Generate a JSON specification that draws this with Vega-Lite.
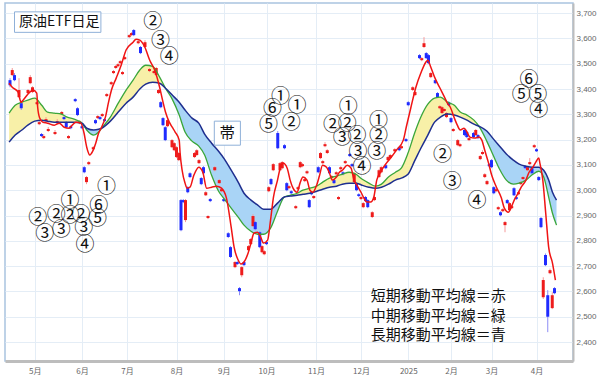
{
"$schema":"https://vega.github.io/schema/vega-lite/v6.json",
"width":568,"height":358,
"padding":{"left":5,"top":3,"right":0,"bottom":0},
"background":"white",
"config":{"view":{"stroke":"#a9c3e0","strokeWidth":1.5},"font":"Noto Sans CJK JP"},
"datasets":{
"band":[
{"t":-11.4,"g":3305,"b":3190,"seg":"A","k":"y"},{"t":-8.7,"g":3336,"b":3218,"seg":"A","k":"y"},{"t":-5.7,"g":3348,"b":3238,"seg":"A","k":"y"},{"t":-3.1,"g":3356,"b":3257,"seg":"A","k":"y"},{"t":0,"g":3364,"b":3273,"seg":"A","k":"y"},{"t":3.1,"g":3336,"b":3277,"seg":"A","k":"y"},{"t":5.7,"g":3309,"b":3273,"seg":"A","k":"y"},{"t":8.7,"g":3305,"b":3269,"seg":"A","k":"y"},{"t":11.8,"g":3301,"b":3269,"seg":"A","k":"y"},{"t":14.4,"g":3289,"b":3269,"seg":"A","k":"y"},{"t":17.5,"g":3281,"b":3269,"seg":"A","k":"y"},{"t":21.0,"g":3265,"b":3265,"seg":"A","k":"y"},
{"t":21.0,"g":3265,"b":3265,"seg":"B","k":"b"},{"t":23.1,"g":3238,"b":3245,"seg":"B","k":"b"},{"t":26.2,"g":3218,"b":3238,"seg":"B","k":"b"},{"t":28.4,"g":3230,"b":3241,"seg":"B","k":"b"},{"t":29.7,"g":3245,"b":3245,"seg":"B","k":"b"},
{"t":29.7,"g":3245,"b":3245,"seg":"C","k":"y"},{"t":33.6,"g":3289,"b":3273,"seg":"C","k":"y"},{"t":37.1,"g":3344,"b":3309,"seg":"C","k":"y"},{"t":40.6,"g":3396,"b":3344,"seg":"C","k":"y"},{"t":43.7,"g":3435,"b":3368,"seg":"C","k":"y"},{"t":46.7,"g":3475,"b":3400,"seg":"C","k":"y"},{"t":49.3,"g":3494,"b":3419,"seg":"C","k":"y"},{"t":52.4,"g":3490,"b":3427,"seg":"C","k":"y"},{"t":55.5,"g":3447,"b":3423,"seg":"C","k":"y"},{"t":58.1,"g":3403,"b":3403,"seg":"C","k":"y"},
{"t":58.1,"g":3403,"b":3403,"seg":"D","k":"b"},{"t":61.1,"g":3360,"b":3376,"seg":"D","k":"b"},{"t":64.2,"g":3297,"b":3348,"seg":"D","k":"b"},{"t":66.8,"g":3230,"b":3317,"seg":"D","k":"b"},{"t":69.9,"g":3194,"b":3285,"seg":"D","k":"b"},{"t":72.9,"g":3174,"b":3265,"seg":"D","k":"b"},{"t":75.5,"g":3139,"b":3222,"seg":"D","k":"b"},{"t":78.6,"g":3059,"b":3186,"seg":"D","k":"b"},{"t":81.7,"g":2996,"b":3154,"seg":"D","k":"b"},{"t":84.3,"g":2965,"b":3123,"seg":"D","k":"b"},{"t":87.3,"g":2929,"b":3079,"seg":"D","k":"b"},{"t":90.4,"g":2894,"b":3032,"seg":"D","k":"b"},{"t":93.0,"g":2862,"b":2988,"seg":"D","k":"b"},{"t":96.1,"g":2838,"b":2961,"seg":"D","k":"b"},{"t":99.1,"g":2826,"b":2941,"seg":"D","k":"b"},{"t":101.7,"g":2826,"b":2925,"seg":"D","k":"b"},{"t":104.8,"g":2850,"b":2925,"seg":"D","k":"b"},{"t":107.9,"g":2917,"b":2949,"seg":"D","k":"b"},{"t":110.9,"g":2973,"b":2973,"seg":"D","k":"b"},
{"t":110.9,"g":2973,"b":2973,"seg":"E","k":"y"},{"t":113.5,"g":2980,"b":2977,"seg":"E","k":"y"},{"t":116.6,"g":2988,"b":2980,"seg":"E","k":"y"},{"t":119.2,"g":3000,"b":2984,"seg":"E","k":"y"},{"t":122.3,"g":3008,"b":2988,"seg":"E","k":"y"},{"t":125.3,"g":3016,"b":2996,"seg":"E","k":"y"},{"t":128.0,"g":3032,"b":3004,"seg":"E","k":"y"},{"t":131.0,"g":3048,"b":3012,"seg":"E","k":"y"},{"t":134.1,"g":3056,"b":3016,"seg":"E","k":"y"},{"t":136.7,"g":3063,"b":3024,"seg":"E","k":"y"},{"t":139.7,"g":3071,"b":3028,"seg":"E","k":"y"},{"t":142.8,"g":3063,"b":3028,"seg":"E","k":"y"},{"t":145.4,"g":3044,"b":3020,"seg":"E","k":"y"},{"t":148.5,"g":3028,"b":3012,"seg":"E","k":"y"},{"t":151.5,"g":3016,"b":3008,"seg":"E","k":"y"},{"t":154.1,"g":3024,"b":3012,"seg":"E","k":"y"},{"t":157.2,"g":3052,"b":3024,"seg":"E","k":"y"},{"t":160.3,"g":3071,"b":3040,"seg":"E","k":"y"},{"t":162.9,"g":3087,"b":3048,"seg":"E","k":"y"},{"t":165.9,"g":3147,"b":3063,"seg":"E","k":"y"},{"t":169.0,"g":3230,"b":3119,"seg":"E","k":"y"},{"t":171.6,"g":3289,"b":3166,"seg":"E","k":"y"},{"t":174.7,"g":3340,"b":3218,"seg":"E","k":"y"},{"t":177.7,"g":3364,"b":3269,"seg":"E","k":"y"},{"t":180.3,"g":3368,"b":3289,"seg":"E","k":"y"},{"t":183.4,"g":3348,"b":3301,"seg":"E","k":"y"},{"t":186.5,"g":3336,"b":3297,"seg":"E","k":"y"},{"t":189.1,"g":3309,"b":3289,"seg":"E","k":"y"},{"t":192.1,"g":3297,"b":3277,"seg":"E","k":"y"},{"t":195.2,"g":3277,"b":3261,"seg":"E","k":"y"},{"t":197.4,"g":3253,"b":3253,"seg":"E","k":"y"},
{"t":197.4,"g":3253,"b":3253,"seg":"F","k":"b"},{"t":200.9,"g":3194,"b":3234,"seg":"F","k":"b"},{"t":203.9,"g":3135,"b":3202,"seg":"F","k":"b"},{"t":206.6,"g":3083,"b":3174,"seg":"F","k":"b"},{"t":209.6,"g":3040,"b":3143,"seg":"F","k":"b"},{"t":212.7,"g":3024,"b":3119,"seg":"F","k":"b"},{"t":215.3,"g":3028,"b":3103,"seg":"F","k":"b"},{"t":218.3,"g":3040,"b":3095,"seg":"F","k":"b"},{"t":221.4,"g":3063,"b":3091,"seg":"F","k":"b"},{"t":224.0,"g":3075,"b":3091,"seg":"F","k":"b"},{"t":226.2,"g":3052,"b":3079,"seg":"F","k":"b"},{"t":228.4,"g":2973,"b":3040,"seg":"F","k":"b"},{"t":230.1,"g":2909,"b":2992,"seg":"F","k":"b"},{"t":231.9,"g":2862,"b":2961,"seg":"F","k":"b"}
],
"red":[
{"t":-11.4,"r":3423},{"t":-10.0,"r":3407},{"t":-7.4,"r":3388},{"t":-6.1,"r":3348},{"t":-5.2,"r":3356},{"t":-2.2,"r":3388},{"t":-0.9,"r":3396},{"t":0.9,"r":3384},{"t":1.3,"r":3328},{"t":2.2,"r":3285},{"t":3.5,"r":3269},{"t":5.7,"r":3265},{"t":8.7,"r":3257},{"t":10.9,"r":3265},{"t":13.1,"r":3249},{"t":15.3,"r":3245},{"t":16.6,"r":3257},{"t":18.3,"r":3269},{"t":20.5,"r":3265},{"t":21.8,"r":3230},{"t":23.1,"r":3170},{"t":24.5,"r":3139},{"t":25.3,"r":3147},{"t":27.1,"r":3186},{"t":28.4,"r":3226},{"t":29.7,"r":3249},{"t":31.4,"r":3289},{"t":32.8,"r":3348},{"t":34.1,"r":3396},{"t":36.2,"r":3443},{"t":38.4,"r":3494},{"t":40.6,"r":3554},{"t":43.7,"r":3585},{"t":45.0,"r":3597},{"t":46.7,"r":3593},{"t":48.9,"r":3566},{"t":51.1,"r":3514},{"t":53.3,"r":3475},{"t":55.5,"r":3407},{"t":56.8,"r":3356},{"t":58.1,"r":3309},{"t":59.8,"r":3269},{"t":61.1,"r":3249},{"t":62.4,"r":3230},{"t":64.2,"r":3198},{"t":64.6,"r":3147},{"t":65.5,"r":3079},{"t":66.8,"r":3028},{"t":67.7,"r":3008},{"t":69.0,"r":3012},{"t":70.7,"r":3059},{"t":72.9,"r":3091},{"t":74.7,"r":3071},{"t":76.4,"r":3008},{"t":78.6,"r":3012},{"t":80.8,"r":3016},{"t":83.0,"r":3008},{"t":85.2,"r":2969},{"t":87.3,"r":2854},{"t":88.6,"r":2775},{"t":90.4,"r":2724},{"t":91.7,"r":2708},{"t":93.0,"r":2716},{"t":94.8,"r":2751},{"t":96.1,"r":2791},{"t":97.4,"r":2830},{"t":99.1,"r":2834},{"t":100.4,"r":2815},{"t":101.7,"r":2791},{"t":103.5,"r":2803},{"t":104.8,"r":2882},{"t":106.1,"r":2973},{"t":107.9,"r":3040},{"t":109.2,"r":3091},{"t":110.5,"r":3107},{"t":112.2,"r":3087},{"t":113.5,"r":3040},{"t":114.8,"r":3008},{"t":116.6,"r":2992},{"t":117.9,"r":3028},{"t":119.2,"r":3052},{"t":121.0,"r":3040},{"t":122.3,"r":3000},{"t":123.6,"r":2992},{"t":125.3,"r":3020},{"t":126.6,"r":3059},{"t":127.9,"r":3099},{"t":129.7,"r":3091},{"t":131.0,"r":3067},{"t":132.3,"r":3040},{"t":134.1,"r":3052},{"t":135.4,"r":3071},{"t":136.7,"r":3079},{"t":138.9,"r":3099},{"t":140.6,"r":3087},{"t":141.9,"r":3040},{"t":143.2,"r":3020},{"t":145.0,"r":2992},{"t":146.3,"r":2969},{"t":147.6,"r":2953},{"t":149.3,"r":2953},{"t":150.7,"r":2973},{"t":152.0,"r":3040},{"t":153.7,"r":3071},{"t":155.0,"r":3091},{"t":156.3,"r":3107},{"t":158.5,"r":3131},{"t":160.7,"r":3158},{"t":163.8,"r":3198},{"t":165.1,"r":3249},{"t":167.2,"r":3328},{"t":169.4,"r":3407},{"t":171.6,"r":3463},{"t":173.8,"r":3506},{"t":174.7,"r":3514},{"t":176.0,"r":3487},{"t":177.7,"r":3447},{"t":179.9,"r":3407},{"t":182.1,"r":3368},{"t":183.4,"r":3344},{"t":184.7,"r":3328},{"t":186.5,"r":3285},{"t":187.8,"r":3257},{"t":189.1,"r":3238},{"t":190.8,"r":3245},{"t":192.1,"r":3230},{"t":193.4,"r":3210},{"t":195.6,"r":3206},{"t":197.4,"r":3210},{"t":198.7,"r":3198},{"t":200.0,"r":3158},{"t":201.7,"r":3107},{"t":203.1,"r":3059},{"t":205.2,"r":3012},{"t":207.4,"r":2969},{"t":208.7,"r":2929},{"t":210.5,"r":2913},{"t":211.8,"r":2933},{"t":213.1,"r":2961},{"t":214.8,"r":2988},{"t":216.2,"r":3012},{"t":218.3,"r":3040},{"t":219.7,"r":3071},{"t":221.4,"r":3091},{"t":222.7,"r":3111},{"t":224.0,"r":3127},{"t":224.5,"r":3107},{"t":225.8,"r":3040},{"t":227.1,"r":2909},{"t":228.4,"r":2775},{"t":230.1,"r":2712},{"t":231.4,"r":2645}
],
"candles":[
{"t":-11,"o":3435,"c":3415,"h":3443,"l":3407},{"t":-10,"o":3455,"c":3475,"h":3483,"l":3451},{"t":-9,"o":3455,"c":3435,"h":3463,"l":3431},{"t":-7,"o":3368,"c":3396,"h":3443,"l":3364},{"t":-6,"o":3344,"c":3324,"h":3352,"l":3317},{"t":-3,"o":3384,"c":3396,"h":3400,"l":3380},{"t":-2,"o":3423,"c":3447,"h":3455,"l":3419},{"t":-1,"o":3388,"c":3407,"h":3411,"l":3384},
{"t":1,"o":3340,"c":3348,"h":3352,"l":3336},{"t":2,"o":3261,"c":3269,"h":3273,"l":3257},{"t":3,"o":3222,"c":3214,"h":3226,"l":3210},{"t":4,"o":3206,"c":3214,"h":3222,"l":3202},{"t":5,"o":3273,"c":3281,"h":3289,"l":3269},{"t":6,"o":3234,"c":3242,"h":3250,"l":3230},{"t":9,"o":3222,"c":3230,"h":3238,"l":3218},{"t":10,"o":3265,"c":3273,"h":3281,"l":3261},{"t":12,"o":3301,"c":3309,"h":3313,"l":3297},{"t":13,"o":3289,"c":3281,"h":3293,"l":3277},{"t":14,"o":3269,"c":3249,"h":3273,"l":3245},{"t":15,"o":3206,"c":3214,"h":3218,"l":3202},{"t":16,"o":3253,"c":3245,"h":3257,"l":3241},{"t":18,"o":3360,"c":3352,"h":3364,"l":3348},{"t":19,"o":3324,"c":3297,"h":3328,"l":3293},{"t":20,"o":3265,"c":3273,"h":3277,"l":3261},
{"t":21,"o":3253,"c":3245,"h":3257,"l":3241},{"t":22,"o":3091,"c":3071,"h":3095,"l":3067},{"t":23,"o":3032,"c":3052,"h":3056,"l":3024},{"t":24,"o":3103,"c":3111,"h":3115,"l":3099},{"t":26,"o":3162,"c":3170,"h":3174,"l":3158},{"t":27,"o":3277,"c":3265,"h":3281,"l":3261},{"t":28,"o":3285,"c":3293,"h":3297,"l":3281},{"t":29,"o":3289,"c":3281,"h":3293,"l":3277},{"t":30,"o":3293,"c":3301,"h":3305,"l":3289},{"t":31,"o":3281,"c":3273,"h":3285,"l":3269},{"t":32,"o":3372,"c":3380,"h":3384,"l":3368},{"t":34,"o":3419,"c":3427,"h":3431,"l":3415},{"t":35,"o":3463,"c":3471,"h":3475,"l":3459},{"t":36,"o":3483,"c":3491,"h":3495,"l":3479},{"t":37,"o":3490,"c":3498,"h":3502,"l":3486},{"t":38,"o":3502,"c":3510,"h":3514,"l":3498},{"t":39,"o":3459,"c":3467,"h":3471,"l":3455},{"t":40,"o":3518,"c":3526,"h":3530,"l":3514},
{"t":42,"o":3605,"c":3613,"h":3617,"l":3601},{"t":43,"o":3613,"c":3621,"h":3625,"l":3609},{"t":44,"o":3633,"c":3613,"h":3637,"l":3609},{"t":46,"o":3581,"c":3589,"h":3593,"l":3577},{"t":47,"o":3566,"c":3542,"h":3570,"l":3538},{"t":49,"o":3566,"c":3585,"h":3593,"l":3562},{"t":51,"o":3471,"c":3479,"h":3483,"l":3467},{"t":53,"o":3463,"c":3471,"h":3475,"l":3459},{"t":54,"o":3455,"c":3483,"h":3487,"l":3451},{"t":55,"o":3384,"c":3396,"h":3400,"l":3380},{"t":56,"o":3348,"c":3328,"h":3352,"l":3324},{"t":57,"o":3285,"c":3257,"h":3289,"l":3253},{"t":58,"o":3249,"c":3198,"h":3253,"l":3194},{"t":59,"o":3253,"c":3277,"h":3281,"l":3249},{"t":61,"o":3170,"c":3198,"h":3202,"l":3166},{"t":62,"o":3158,"c":3186,"h":3190,"l":3154},
{"t":63,"o":3131,"c":3170,"h":3174,"l":3127},{"t":64,"o":3119,"c":3147,"h":3151,"l":3115},{"t":65,"o":2961,"c":2842,"h":2965,"l":2838},{"t":66,"o":2961,"c":2953,"h":2965,"l":2949},{"t":67,"o":2882,"c":2961,"h":2965,"l":2874},{"t":68,"o":3012,"c":2992,"h":3016,"l":2988},{"t":69,"o":3067,"c":3052,"h":3071,"l":3048},{"t":71,"o":3131,"c":3147,"h":3151,"l":3127},{"t":72,"o":3139,"c":3158,"h":3162,"l":3135},{"t":73,"o":3107,"c":3119,"h":3123,"l":3103},{"t":74,"o":3048,"c":3024,"h":3052,"l":3020},{"t":75,"o":3091,"c":3067,"h":3095,"l":3063},{"t":76,"o":2980,"c":2992,"h":2996,"l":2977},{"t":77,"o":2890,"c":2898,"h":2901,"l":2886},{"t":78,"o":2965,"c":2957,"h":2969,"l":2953},{"t":80,"o":3079,"c":3091,"h":3095,"l":3075},{"t":82,"o":3028,"c":3040,"h":3044,"l":3024},{"t":83,"o":2996,"c":3004,"h":3008,"l":2992},
{"t":84,"o":2965,"c":2957,"h":2969,"l":2953},{"t":86,"o":2830,"c":2815,"h":2834,"l":2811},{"t":87,"o":2775,"c":2736,"h":2779,"l":2732},{"t":89,"o":2696,"c":2716,"h":2720,"l":2692},{"t":90,"o":2716,"c":2708,"h":2720,"l":2704},{"t":91,"o":2613,"c":2601,"h":2617,"l":2585},{"t":92,"o":2664,"c":2696,"h":2700,"l":2656},{"t":93,"o":2716,"c":2704,"h":2720,"l":2700},{"t":95,"o":2763,"c":2779,"h":2783,"l":2759},{"t":96,"o":2787,"c":2807,"h":2811,"l":2783},{"t":97,"o":2858,"c":2898,"h":2905,"l":2854},{"t":98,"o":2874,"c":2846,"h":2878,"l":2842},{"t":100,"o":2834,"c":2775,"h":2838,"l":2771},{"t":101,"o":2755,"c":2779,"h":2783,"l":2751},{"t":102,"o":2747,"c":2759,"h":2763,"l":2743},
{"t":103,"o":2795,"c":2787,"h":2799,"l":2783},{"t":104,"o":2996,"c":3012,"h":3016,"l":2992},{"t":105,"o":3044,"c":3024,"h":3048,"l":3020},{"t":106,"o":3079,"c":3103,"h":3107,"l":3075},{"t":108,"o":3226,"c":3166,"h":3234,"l":3162},{"t":109,"o":3079,"c":3107,"h":3111,"l":3075},{"t":110,"o":3087,"c":3111,"h":3115,"l":3083},{"t":111,"o":3178,"c":3166,"h":3182,"l":3162},{"t":112,"o":3028,"c":3000,"h":3032,"l":2996},{"t":113,"o":3008,"c":3016,"h":3020,"l":3004},{"t":114,"o":2996,"c":2988,"h":3000,"l":2984},{"t":116,"o":2929,"c":2937,"h":2941,"l":2925},{"t":117,"o":3004,"c":3012,"h":3016,"l":3000},{"t":118,"o":3091,"c":3111,"h":3115,"l":3087},{"t":119,"o":3095,"c":3103,"h":3107,"l":3091},{"t":120,"o":3036,"c":3044,"h":3048,"l":3032},{"t":121,"o":3067,"c":3075,"h":3079,"l":3063},{"t":122,"o":2961,"c":2933,"h":2965,"l":2929},{"t":123,"o":2992,"c":2984,"h":2996,"l":2980},{"t":124,"o":2969,"c":2977,"h":2980,"l":2965},
{"t":126,"o":3091,"c":3071,"h":3095,"l":3067},{"t":127,"o":3127,"c":3147,"h":3151,"l":3123},{"t":128,"o":3107,"c":3115,"h":3119,"l":3103},{"t":129,"o":3174,"c":3182,"h":3190,"l":3170},{"t":130,"o":3147,"c":3158,"h":3162,"l":3143},{"t":131,"o":3091,"c":3067,"h":3095,"l":3063},{"t":132,"o":3048,"c":3056,"h":3060,"l":3044},{"t":133,"o":3040,"c":3028,"h":3044,"l":3024},{"t":134,"o":3063,"c":3071,"h":3075,"l":3059},{"t":135,"o":2965,"c":2973,"h":2977,"l":2961},{"t":136,"o":3083,"c":3091,"h":3095,"l":3079},{"t":137,"o":3071,"c":3063,"h":3075,"l":3059},{"t":138,"o":3107,"c":3115,"h":3119,"l":3103},{"t":140,"o":3143,"c":3135,"h":3147,"l":3131},{"t":141,"o":3103,"c":3095,"h":3107,"l":3091},{"t":142,"o":3032,"c":3067,"h":3071,"l":3028},{"t":143,"o":3028,"c":3000,"h":3032,"l":2996},{"t":144,"o":2984,"c":2977,"h":2988,"l":2973},
{"t":145,"o":2965,"c":2973,"h":2977,"l":2961},{"t":146,"o":2933,"c":2949,"h":2953,"l":2929},{"t":147,"o":2973,"c":2957,"h":2977,"l":2953},{"t":148,"o":2961,"c":2933,"h":2965,"l":2929},{"t":150,"o":2894,"c":2913,"h":2917,"l":2890},{"t":151,"o":2961,"c":2973,"h":2977,"l":2957},{"t":153,"o":3052,"c":3079,"h":3083,"l":3048},{"t":154,"o":3071,"c":3091,"h":3095,"l":3067},{"t":156,"o":3099,"c":3087,"h":3103,"l":3083},{"t":157,"o":3119,"c":3131,"h":3135,"l":3115},{"t":158,"o":3127,"c":3139,"h":3143,"l":3123},{"t":160,"o":3154,"c":3162,"h":3166,"l":3151},{"t":162,"o":3170,"c":3158,"h":3174,"l":3154},{"t":163,"o":3166,"c":3174,"h":3178,"l":3162},{"t":165,"o":3202,"c":3194,"h":3206,"l":3190},
{"t":166,"o":3348,"c":3336,"h":3352,"l":3332},{"t":168,"o":3396,"c":3407,"h":3411,"l":3392},{"t":169,"o":3376,"c":3388,"h":3392,"l":3372},{"t":171,"o":3534,"c":3522,"h":3538,"l":3518},{"t":172,"o":3514,"c":3522,"h":3526,"l":3510},{"t":173,"o":3566,"c":3581,"h":3605,"l":3562},{"t":174,"o":3542,"c":3522,"h":3546,"l":3518},{"t":175,"o":3534,"c":3502,"h":3538,"l":3498},{"t":176,"o":3447,"c":3463,"h":3467,"l":3443},{"t":178,"o":3435,"c":3423,"h":3439,"l":3419},{"t":179,"o":3384,"c":3368,"h":3388,"l":3364},{"t":180,"o":3324,"c":3332,"h":3336,"l":3320},{"t":181,"o":3305,"c":3328,"h":3332,"l":3301},{"t":182,"o":3313,"c":3321,"h":3324,"l":3309},{"t":183,"o":3289,"c":3305,"h":3309,"l":3285},{"t":184,"o":3348,"c":3336,"h":3352,"l":3332},
{"t":185,"o":3285,"c":3269,"h":3289,"l":3265},{"t":186,"o":3234,"c":3242,"h":3246,"l":3230},{"t":188,"o":3178,"c":3198,"h":3202,"l":3174},{"t":189,"o":3174,"c":3182,"h":3186,"l":3170},{"t":191,"o":3238,"c":3218,"h":3242,"l":3214},{"t":192,"o":3230,"c":3210,"h":3234,"l":3206},{"t":193,"o":3198,"c":3206,"h":3210,"l":3194},{"t":195,"o":3226,"c":3210,"h":3230,"l":3206},{"t":196,"o":3218,"c":3238,"h":3242,"l":3214},{"t":197,"o":3218,"c":3206,"h":3222,"l":3202},{"t":198,"o":3123,"c":3135,"h":3139,"l":3119},{"t":199,"o":3143,"c":3151,"h":3158,"l":3139},{"t":200,"o":3052,"c":3063,"h":3067,"l":3048},{"t":201,"o":3024,"c":3036,"h":3040,"l":3020},{"t":202,"o":3103,"c":3095,"h":3107,"l":3091},
{"t":203,"o":3119,"c":3091,"h":3123,"l":3087},{"t":204,"o":3012,"c":2988,"h":3016,"l":2984},{"t":205,"o":2996,"c":3004,"h":3008,"l":2992},{"t":206,"o":2925,"c":2933,"h":2937,"l":2921},{"t":207,"o":2913,"c":2901,"h":2917,"l":2897},{"t":208,"o":2917,"c":2925,"h":2929,"l":2913},{"t":209,"o":2862,"c":2874,"h":2878,"l":2834},{"t":210,"o":2961,"c":2949,"h":2965,"l":2945},{"t":211,"o":2921,"c":2949,"h":2953,"l":2917},{"t":212,"o":2929,"c":2937,"h":2941,"l":2925},{"t":213,"o":3008,"c":2980,"h":3012,"l":2977},{"t":214,"o":2973,"c":2965,"h":2977,"l":2961},{"t":215,"o":2984,"c":2992,"h":2996,"l":2980},{"t":216,"o":3024,"c":3032,"h":3036,"l":3020},{"t":217,"o":3044,"c":3052,"h":3056,"l":3040},{"t":218,"o":3095,"c":3087,"h":3099,"l":3083},{"t":219,"o":3079,"c":3091,"h":3095,"l":3075},{"t":220,"o":3103,"c":3111,"h":3127,"l":3099},{"t":221,"o":3087,"c":3067,"h":3091,"l":3063},{"t":222,"o":3170,"c":3178,"h":3182,"l":3166},
{"t":223,"o":3162,"c":3154,"h":3166,"l":3151},{"t":224,"o":3052,"c":3040,"h":3056,"l":3036},{"t":225,"o":2890,"c":2854,"h":2894,"l":2850},{"t":226,"o":2577,"c":2645,"h":2656,"l":2570},{"t":227,"o":2744,"c":2704,"h":2750,"l":2700},{"t":228,"o":2585,"c":2500,"h":2605,"l":2439},{"t":229,"o":2672,"c":2684,"h":2690,"l":2668},{"t":230,"o":2534,"c":2585,"h":2597,"l":2530},{"t":231,"o":2613,"c":2593,"h":2617,"l":2589}
],
"notes":[
{"t":52.4,"p":3664,"s":"②"},{"t":55.9,"p":3589,"s":"③"},{"t":59.8,"p":3526,"s":"④"},
{"t":109.2,"p":3368,"s":"①"},{"t":105.7,"p":3320,"s":"⑥"},{"t":116.6,"p":3332,"s":"①"},{"t":103.9,"p":3257,"s":"⑤"},{"t":114.0,"p":3265,"s":"②"},
{"t":139.3,"p":3328,"s":"①"},{"t":132.3,"p":3257,"s":"②"},{"t":138.9,"p":3263,"s":"②"},{"t":152.8,"p":3273,"s":"①"},
{"t":136.7,"p":3206,"s":"③"},{"t":143.2,"p":3214,"s":"②"},{"t":152.8,"p":3214,"s":"②"},
{"t":143.7,"p":3151,"s":"③"},{"t":152.0,"p":3151,"s":"③"},{"t":145.4,"p":3091,"s":"④"},
{"t":219.7,"p":3435,"s":"⑥"},{"t":216.2,"p":3376,"s":"⑤"},{"t":223.6,"p":3376,"s":"⑤"},{"t":224.0,"p":3317,"s":"④"},
{"t":181.2,"p":3139,"s":"②"},{"t":185.6,"p":3032,"s":"③"},{"t":196.5,"p":2957,"s":"④"},
{"t":31.9,"p":3012,"s":"①"},{"t":15.7,"p":2957,"s":"①"},{"t":28.4,"p":2937,"s":"⑥"},{"t":1.3,"p":2890,"s":"②"},{"t":9.6,"p":2901,"s":"②"},{"t":15.7,"p":2897,"s":"②"},{"t":20.5,"p":2901,"s":"②"},{"t":27.9,"p":2886,"s":"⑤"},{"t":4.4,"p":2826,"s":"③"},{"t":11.8,"p":2842,"s":"③"},{"t":21.8,"p":2850,"s":"③"},{"t":22.3,"p":2783,"s":"④"}
],
"boxes":[{"t1":-9.0,"t2":29.4,"p1":3705,"p2":3624},{"t1":79.8,"t2":91.4,"p1":3273,"p2":3178}],
"title":[{"t":10.9,"p":3664,"s":"原油ETF日足"}],
"obi":[{"t":85.6,"p":3226,"s":"帯"}],
"legend":[{"t":149.3,"p":2581,"s":"短期移動平均線＝赤"},{"t":149.3,"p":2502,"s":"中期移動平均線＝緑"},{"t":149.3,"p":2427,"s":"長期移動平均線＝青"}]
},
"encoding":{
"x":{"field":"t","type":"quantitative","scale":{"domain":[-11,237],"nice":false,"zero":false},
"axis":{"values":[0,21,41,63,84,103,125,145,166,185,203,223],
"labelExpr":"datum.value==0?'5月':datum.value==21?'6月':datum.value==41?'7月':datum.value==63?'8月':datum.value==84?'9月':datum.value==103?'10月':datum.value==125?'11月':datum.value==145?'12月':datum.value==166?'2025':datum.value==185?'2月':datum.value==203?'3月':'4月'",
"title":null,"ticks":false,"domainColor":"#bdbdbd","domainWidth":3,"labelFontSize":8,"labelColor":"#666666","labelPadding":6,"gridColor":"#e4edf6","labelFont":"Noto Sans CJK JP"}}
},
"layer":[
{"data":{"name":"band"},"mark":{"type":"area","interpolate":"monotone","clip":true},
"encoding":{"y":{"field":"g","type":"quantitative","scale":{"domain":[2325,3740],"nice":false,"zero":false},
"axis":{"orient":"right","values":[2400,2500,2600,2700,2800,2900,3000,3100,3200,3300,3400,3500,3600,3700],"labelExpr":"format(datum.value, ',')","title":null,"ticks":false,"domainColor":"#bdbdbd","domainWidth":2,"labelFontSize":8,"labelColor":"#666666","labelPadding":3,"gridColor":"#e4edf6","labelFont":"Liberation Sans"}},
"y2":{"field":"b"},
"color":{"field":"k","type":"nominal","scale":{"domain":["y","b"],"range":["#f8f0a8","#a9d4f6"]},"legend":null},
"detail":{"field":"seg"}}},
{"data":{"name":"candles"},"mark":{"type":"rule","strokeWidth":1,"clip":true},
"encoding":{"y":{"field":"l","type":"quantitative","scale":{"domain":[2325,3740],"nice":false,"zero":false},
"axis":{"orient":"right","values":[2400,2500,2600,2700,2800,2900,3000,3100,3200,3300,3400,3500,3600,3700],"labelExpr":"format(datum.value, ',')","title":null,"ticks":false,"domainColor":"#bdbdbd","domainWidth":2,"labelFontSize":8,"labelColor":"#666666","labelPadding":3,"gridColor":"#e4edf6","labelFont":"Liberation Sans"}},"y2":{"field":"h"},
"color":{"condition":{"test":"datum.c>=datum.o","value":"#f59a9a"},"value":"#8c8cf5"}}},
{"data":{"name":"candles"},"mark":{"type":"bar","width":3,"clip":true},
"encoding":{"y":{"field":"o","type":"quantitative","scale":{"domain":[2325,3740],"nice":false,"zero":false},
"axis":{"orient":"right","values":[2400,2500,2600,2700,2800,2900,3000,3100,3200,3300,3400,3500,3600,3700],"labelExpr":"format(datum.value, ',')","title":null,"ticks":false,"domainColor":"#bdbdbd","domainWidth":2,"labelFontSize":8,"labelColor":"#666666","labelPadding":3,"gridColor":"#e4edf6","labelFont":"Liberation Sans"}},"y2":{"field":"c"},
"color":{"condition":{"test":"datum.c>=datum.o","value":"#ee1c1c"},"value":"#1f2bff"}}},
{"data":{"name":"band"},"mark":{"type":"line","interpolate":"monotone","color":"#3aa63a","strokeWidth":1.3,"clip":true},
"encoding":{"y":{"field":"g","type":"quantitative","scale":{"domain":[2325,3740],"nice":false,"zero":false},
"axis":{"orient":"right","values":[2400,2500,2600,2700,2800,2900,3000,3100,3200,3300,3400,3500,3600,3700],"labelExpr":"format(datum.value, ',')","title":null,"ticks":false,"domainColor":"#bdbdbd","domainWidth":2,"labelFontSize":8,"labelColor":"#666666","labelPadding":3,"gridColor":"#e4edf6","labelFont":"Liberation Sans"}}}},
{"data":{"name":"band"},"mark":{"type":"line","interpolate":"monotone","color":"#1f2f8f","strokeWidth":1.5,"clip":true},
"encoding":{"y":{"field":"b","type":"quantitative","scale":{"domain":[2325,3740],"nice":false,"zero":false},
"axis":{"orient":"right","values":[2400,2500,2600,2700,2800,2900,3000,3100,3200,3300,3400,3500,3600,3700],"labelExpr":"format(datum.value, ',')","title":null,"ticks":false,"domainColor":"#bdbdbd","domainWidth":2,"labelFontSize":8,"labelColor":"#666666","labelPadding":3,"gridColor":"#e4edf6","labelFont":"Liberation Sans"}}}},
{"data":{"name":"red"},"mark":{"type":"line","interpolate":"monotone","color":"#f01414","strokeWidth":1.5,"clip":true},
"encoding":{"y":{"field":"r","type":"quantitative","scale":{"domain":[2325,3740],"nice":false,"zero":false},
"axis":{"orient":"right","values":[2400,2500,2600,2700,2800,2900,3000,3100,3200,3300,3400,3500,3600,3700],"labelExpr":"format(datum.value, ',')","title":null,"ticks":false,"domainColor":"#bdbdbd","domainWidth":2,"labelFontSize":8,"labelColor":"#666666","labelPadding":3,"gridColor":"#e4edf6","labelFont":"Liberation Sans"}}}},
{"data":{"name":"boxes"},"mark":{"type":"rect","fill":"white","stroke":"#8fb0d8","strokeWidth":1},
"encoding":{"x":{"field":"t1","type":"quantitative","scale":{"domain":[-11,237],"nice":false,"zero":false},
"axis":{"values":[0,21,41,63,84,103,125,145,166,185,203,223],
"labelExpr":"datum.value==0?'5月':datum.value==21?'6月':datum.value==41?'7月':datum.value==63?'8月':datum.value==84?'9月':datum.value==103?'10月':datum.value==125?'11月':datum.value==145?'12月':datum.value==166?'2025':datum.value==185?'2月':datum.value==203?'3月':'4月'",
"title":null,"ticks":false,"domainColor":"#bdbdbd","domainWidth":3,"labelFontSize":8,"labelColor":"#666666","labelPadding":6,"gridColor":"#e4edf6","labelFont":"Noto Sans CJK JP"}},"x2":{"field":"t2"},
"y":{"field":"p1","type":"quantitative","scale":{"domain":[2325,3740],"nice":false,"zero":false},
"axis":{"orient":"right","values":[2400,2500,2600,2700,2800,2900,3000,3100,3200,3300,3400,3500,3600,3700],"labelExpr":"format(datum.value, ',')","title":null,"ticks":false,"domainColor":"#bdbdbd","domainWidth":2,"labelFontSize":8,"labelColor":"#666666","labelPadding":3,"gridColor":"#e4edf6","labelFont":"Liberation Sans"}},"y2":{"field":"p2"}}},
{"data":{"name":"notes"},"mark":{"type":"text","fontSize":19,"font":"Noto Sans CJK JP","color":"#111111","align":"center","baseline":"middle"},
"encoding":{"y":{"field":"p","type":"quantitative","scale":{"domain":[2325,3740],"nice":false,"zero":false},
"axis":{"orient":"right","values":[2400,2500,2600,2700,2800,2900,3000,3100,3200,3300,3400,3500,3600,3700],"labelExpr":"format(datum.value, ',')","title":null,"ticks":false,"domainColor":"#bdbdbd","domainWidth":2,"labelFontSize":8,"labelColor":"#666666","labelPadding":3,"gridColor":"#e4edf6","labelFont":"Liberation Sans"}},"text":{"field":"s"}}},
{"data":{"name":"title"},"mark":{"type":"text","fontSize":14,"font":"Noto Sans CJK JP","color":"#111111","align":"center","baseline":"middle"},
"encoding":{"y":{"field":"p","type":"quantitative","scale":{"domain":[2325,3740],"nice":false,"zero":false},
"axis":{"orient":"right","values":[2400,2500,2600,2700,2800,2900,3000,3100,3200,3300,3400,3500,3600,3700],"labelExpr":"format(datum.value, ',')","title":null,"ticks":false,"domainColor":"#bdbdbd","domainWidth":2,"labelFontSize":8,"labelColor":"#666666","labelPadding":3,"gridColor":"#e4edf6","labelFont":"Liberation Sans"}},"text":{"field":"s"}}},
{"data":{"name":"obi"},"mark":{"type":"text","fontSize":15,"font":"Noto Sans CJK JP","color":"#111111","align":"center","baseline":"middle"},
"encoding":{"y":{"field":"p","type":"quantitative","scale":{"domain":[2325,3740],"nice":false,"zero":false},
"axis":{"orient":"right","values":[2400,2500,2600,2700,2800,2900,3000,3100,3200,3300,3400,3500,3600,3700],"labelExpr":"format(datum.value, ',')","title":null,"ticks":false,"domainColor":"#bdbdbd","domainWidth":2,"labelFontSize":8,"labelColor":"#666666","labelPadding":3,"gridColor":"#e4edf6","labelFont":"Liberation Sans"}},"text":{"field":"s"}}},
{"data":{"name":"legend"},"mark":{"type":"text","fontSize":15,"font":"Noto Sans CJK JP","color":"#111111","align":"left","baseline":"middle"},
"encoding":{"y":{"field":"p","type":"quantitative","scale":{"domain":[2325,3740],"nice":false,"zero":false},
"axis":{"orient":"right","values":[2400,2500,2600,2700,2800,2900,3000,3100,3200,3300,3400,3500,3600,3700],"labelExpr":"format(datum.value, ',')","title":null,"ticks":false,"domainColor":"#bdbdbd","domainWidth":2,"labelFontSize":8,"labelColor":"#666666","labelPadding":3,"gridColor":"#e4edf6","labelFont":"Liberation Sans"}},"text":{"field":"s"}}}
]
}
